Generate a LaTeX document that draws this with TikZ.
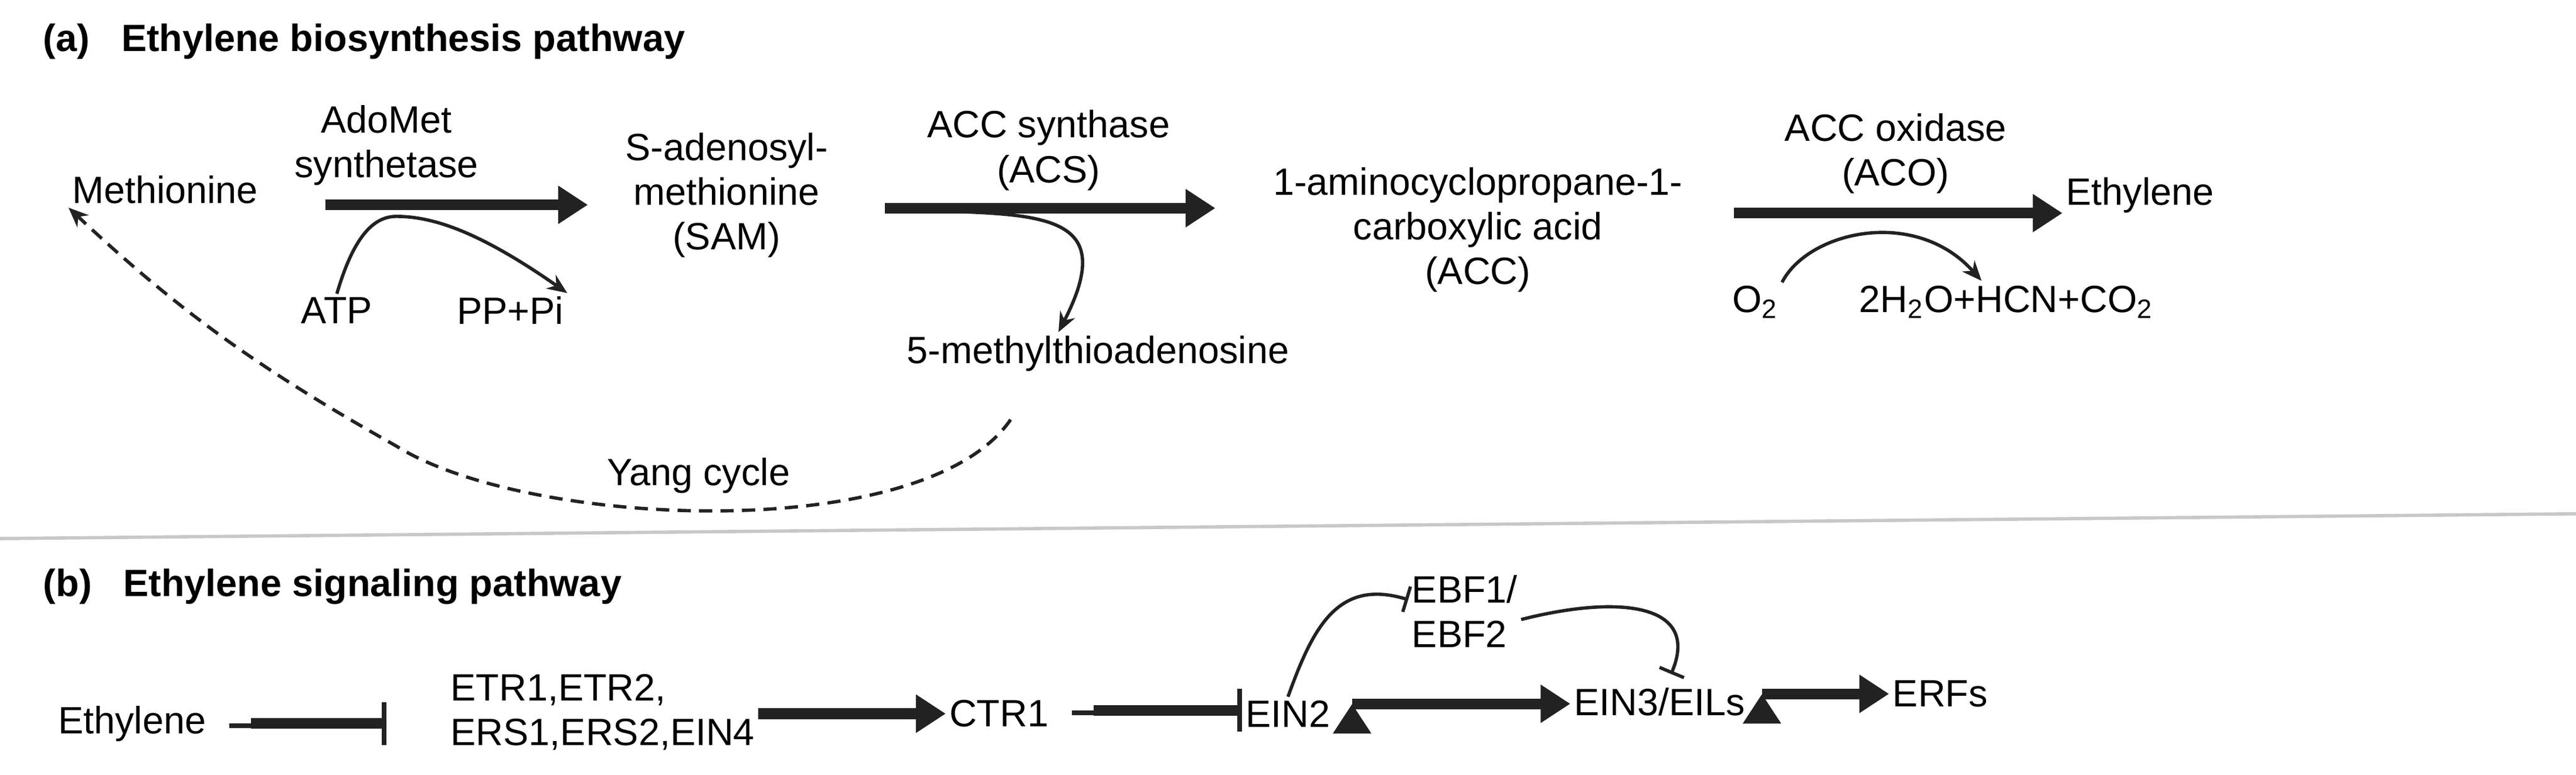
\documentclass[tikz,border=0pt]{standalone}
\usepackage{fontspec}
\setmainfont{Liberation Sans}
\usetikzlibrary{arrows.meta}

\tikzset{every picture/.style={line width=0.75pt}}
\tikzset{
  txt/.style={inner sep=0.75pt, font=\fontsize{11.5}{13.5}\selectfont, align=center},
  ttl/.style={inner sep=0.75pt, anchor=west, font=\bfseries\fontsize{11.5}{13.5}\selectfont},
  thick arrow/.style={line width=3.2pt, -{Triangle[length=9pt,width=11pt]}, color={rgb,255:red,34;green,34;blue,34}},
  thick bar/.style={line width=3.2pt, -{Bar[width=13pt,line width=1.4pt]}, color={rgb,255:red,34;green,34;blue,34}},
  thin arrow/.style={line width=1pt, -{Stealth[length=6pt,width=5pt]}, color={rgb,255:red,34;green,34;blue,34}},
  thin bar/.style={line width=1pt, -{Bar[width=8pt]}, color={rgb,255:red,34;green,34;blue,34}},
}

\begin{document}
\begin{tikzpicture}[x=0.5pt,y=0.5pt,yscale=-1,xscale=1]
\useasboundingbox (0,0) rectangle (1560,469);

%Titles
\node[ttl] (ta) at (24,25) {(a)\ \ \ Ethylene biosynthesis pathway};
\node[ttl] (tb) at (24,355) {(b)\ \ \ Ethylene signaling pathway};

%Separator
\draw [color={rgb,255:red,200;green,200;blue,200}, line width=1pt] (0,326) -- (1560,311) ;

% Text Node
\node[txt] (met) at (100,115) {Methionine};
\node[txt] (adomet) at (234,88) {AdoMet\\synthetase};
\node[txt] (atp) at (204,188) {ATP};
\node[txt] (pppi) at (309,188) {PP+Pi};
\node[txt] (sam) at (440,118) {S-adenosyl-\\methionine\\(SAM)};
\node[txt] (acs) at (635,91) {ACC synthase\\(ACS)};
\node[txt] (mta) at (665,214) {5-methylthioadenosine};
\node[txt] (acc) at (895,139) {1-aminocyclopropane-1-\\carboxylic acid\\(ACC)};
\node[txt] (aco) at (1148,93) {ACC oxidase\\(ACO)};
\node[txt] (eth) at (1296,118) {Ethylene};
\node[txt] (otwo) at (1063,183) {O\textsubscript{2}};
\node[txt] (prod) at (1215,183) {2H\textsubscript{2}O+HCN+CO\textsubscript{2}};
\node[txt] (yang) at (423,288) {Yang cycle};

%Arrow end points
\coordinate (a1s) at (197,124); \coordinate (a1e) at (356,124);
\coordinate (a2s) at (536,126); \coordinate (a2e) at (736,126);
\coordinate (a3s) at (1050,129); \coordinate (a3e) at (1249,129);

%Straight Lines
\draw [thick arrow] (a1s) -- (a1e) ;
\draw [thick arrow] (a2s) -- (a2e) ;
\draw [thick arrow] (a3s) -- (a3e) ;

%Curve Lines
\draw [thin arrow] (atp.north) .. controls (215,140) and (228,131) .. (240,131) .. controls (262,131) and (290,140) .. (pppi.north east) ;
\draw [thin arrow] (577,128) .. controls (640,130) and (675,135) .. (mta.north -| 641,0) ;
\draw [thin arrow] (otwo.north east) .. controls (1095,140) and (1160,125) .. (1200,170) ;
\draw [thin arrow, dashed, dash pattern=on 4pt off 2.5pt] (612,254) .. controls (560,330) and (320,320) .. (240,270) .. controls (160,225) and (110,190) .. (met.south west) ;

% Text Node
\node[txt] (ethb) at (80,438) {Ethylene};
\node[txt, align=left] (etr) at (365,431) {ETR1,ETR2,\\ERS1,ERS2,EIN4};
\node[txt] (ctr) at (605,432) {CTR1};
\node[txt] (ein2) at (780,432) {EIN2};
\node[txt, align=left] (ebf) at (887,370) {EBF1/\\EBF2};
\node[txt] (ein3) at (1005,425) {EIN3/EILs};
\node[txt] (erf) at (1175,420) {ERFs};

%Straight Lines
\draw [thick bar] (ethb.east) ++(25,0) coordinate (b1s) ;
\draw [thick bar] (b1s) -- (234,438) ;
\draw [thick arrow] (etr.east |- 0,432) -- (ctr.west) ;
\draw [thick bar] (ctr.east) ++(25,-2) coordinate (b2s) ;
\draw [thick bar] (b2s) -- (752,430) ;
\draw [thick arrow] (ein2.east) ++(11,-6) coordinate (b3s) ;
\draw [thick arrow] (b3s) -- (ein3.west |- 0,426) ;
\draw [thick arrow] (ein3.east) ++(8,-5) coordinate (b4s) ;
\draw [thick arrow] (b4s) -- (erf.west) ;

%Curve Lines
\draw [thin bar] (ein2.north) .. controls (795,380) and (810,350) .. (ebf.west |- 0,363) ;
\draw [thin bar] (ebf.east |- 0,375) .. controls (980,360) and (1030,365) .. (1012,408) ;

\end{tikzpicture}
\end{document}
